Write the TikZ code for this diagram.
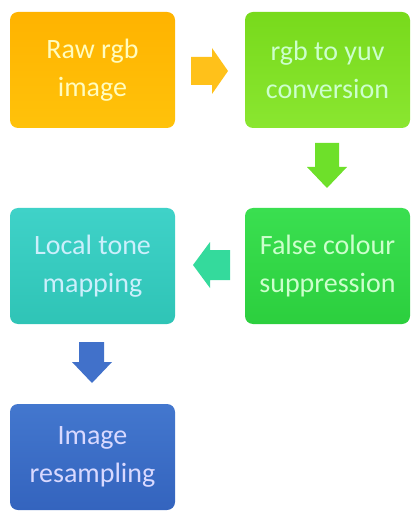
\documentclass[tikz,border=0pt]{standalone}
\usepackage{fontspec}
\setmainfont{Carlito}
\begin{document}
\begin{tikzpicture}[x=1pt,y=-1pt,
  boxx/.style={rounded corners=8pt, minimum width=165pt, minimum height=116pt, align=center, inner sep=0pt,
    font=\fontsize{28}{38}\selectfont, text=white!85!yellow}]
\definecolor{o1}{HTML}{FFB300}\definecolor{o2}{HTML}{FFC20A}
\definecolor{l1}{HTML}{78DA1C}\definecolor{l2}{HTML}{8AE630}
\definecolor{g1}{HTML}{3ADF50}\definecolor{g2}{HTML}{2CCF3E}
\definecolor{t1}{HTML}{3FD2C8}\definecolor{t2}{HTML}{2FC4B6}
\definecolor{b1}{HTML}{4377CE}\definecolor{b2}{HTML}{3464BE}
\definecolor{arrO}{HTML}{FFC11A}\definecolor{arrL}{HTML}{6EE02A}
\definecolor{arrT}{HTML}{34DA9C}\definecolor{arrB}{HTML}{4171CA}
\useasboundingbox (0,0) rectangle (412,518);
\node[boxx, top color=o1, bottom color=o2, text=white!75!yellow] (raw) at (92.5,70) {Raw rgb\\image};
\node[boxx, top color=l1, bottom color=l2, text=white!80!green] (yuv) at (327.5,70) {rgb to yuv\\conversion};
\node[boxx, top color=g1, bottom color=g2, text=white!80!green] (fcs) at (327.5,266) {False colour\\suppression};
\node[boxx, top color=t1, bottom color=t2, text=white!80!cyan] (ltm) at (92.5,266) {Local tone\\mapping};
\node[boxx, top color=b1, bottom color=b2, minimum height=106pt, text=white!85!blue] (irs) at (92.5,457) {Image\\resampling};
% block arrows
\fill[arrO] (191,57) -- (212,57) -- (212,48) -- (228,71) -- (212,94) -- (212,85) -- (191,85) -- cycle;
\fill[arrL] (315,143) -- (339,143) -- (339,167) -- (347,167) -- (327,188) -- (307,167) -- (315,167) -- cycle;
\fill[arrT] (230,250) -- (210,250) -- (210,242) -- (193,265) -- (210,288) -- (210,280) -- (230,280) -- cycle;
\fill[arrB] (79,342) -- (104,342) -- (104,362) -- (112,362) -- (92,383) -- (72,362) -- (79,362) -- cycle;
\end{tikzpicture}
\end{document}
